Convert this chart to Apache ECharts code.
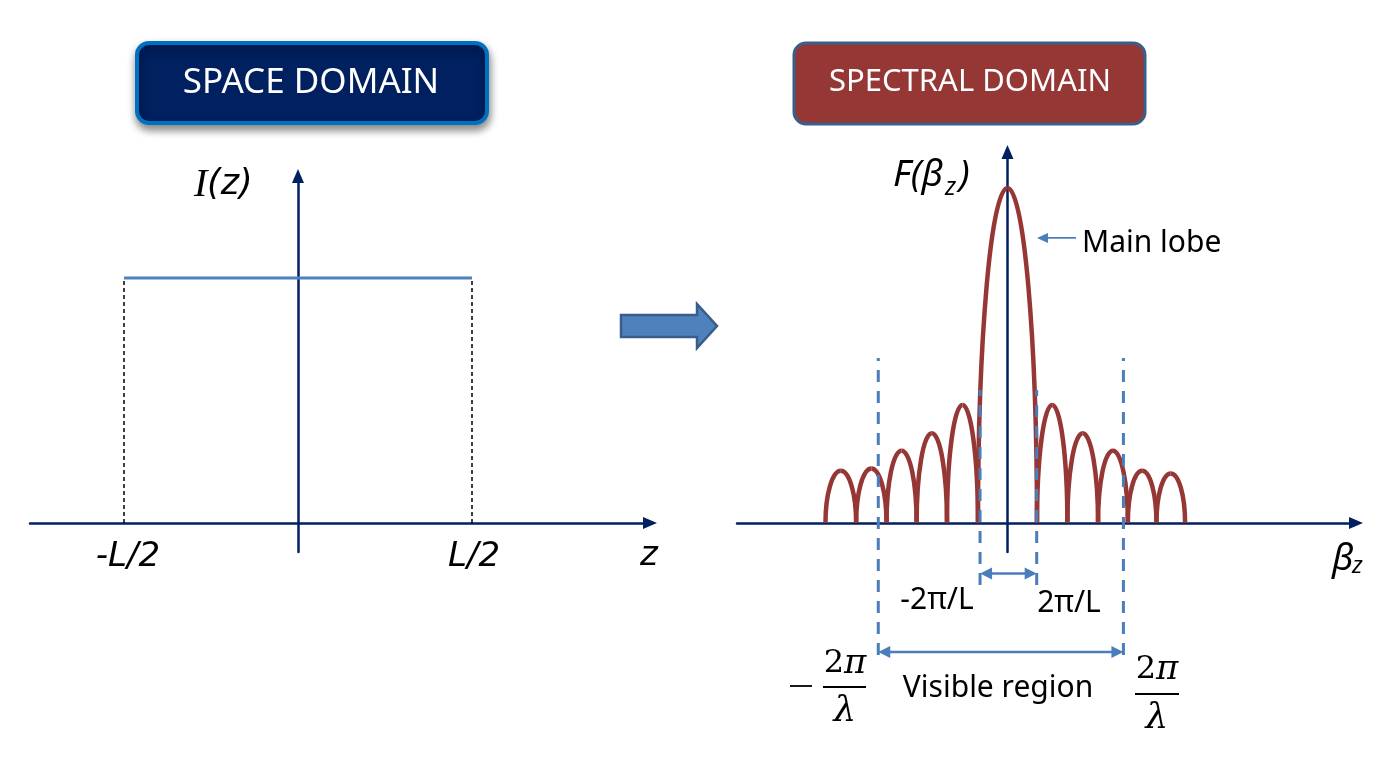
<!DOCTYPE html>
<html>
<head>
<meta charset="utf-8">
<script src="https://cdn.jsdelivr.net/npm/echarts@6/dist/echarts.min.js"></script>
<style>
html,body{margin:0;padding:0;background:#fff;}
#chart{width:1382px;height:782px;}
</style>
</head>
<body>
<div id="chart"></div>
<script>
// ---------- DATA ----------
// Space domain: rectangular current distribution I(z), edges at ±L/2 (units of L)
const spaceEdges = [-0.5, 0.5];
const spaceLevel = 1;
// Spectral domain: |F(beta_z)| lobes (x in units of 2π/L, height relative to main lobe)
const lobeStart = [-6.17, -5.13, -4.10, -3.08, -2.05, -1.00, 1.00, 2.03, 3.07, 4.08, 5.05];
const lobeEnd   = [-5.13, -4.10, -3.08, -2.05, -1.00, 1.00, 2.03, 3.07, 4.08, 5.05, 6.02];
const lobePeak  = [0.156, 0.163, 0.216, 0.268, 0.352, 1.000, 0.352, 0.268, 0.216, 0.156, 0.148];
// Visible region limits (±2π/λ) and first nulls (±2π/L), in units of 2π/L
const visibleEdges = [-4.38, 3.93];
const nullEdges = [-0.93, 0.99];
// Labels
const spaceTickLabels = ['-L/2', 'L/2'];
const spectralTickLabels = ['-2π/L', '2π/L'];

// ---------- CHART ----------
const NAVY = '#002060';
const BROWN = '#953735';
const BLUE = '#4A7EBB';
const FONT = '"Noto Sans", "Open Sans", sans-serif';
const MATH = '"DejaVu Serif", "Liberation Serif", serif';

const chart = echarts.init(document.getElementById('chart'), null, {renderer: 'canvas'});

function axisCommon(gridIndex, min, max) {
  return {
    gridIndex, type: 'value', min, max,
    axisLine: {show: true, onZero: true, lineStyle: {color: NAVY, width: 2.5},
      symbol: ['none', 'triangle'], symbolSize: [12, 14]},
    axisTick: {show: false}, axisLabel: {show: false}, splitLine: {show: false}
  };
}

function arrowHead(tip, dir, len, half, color) {
  const bx = tip[0] - dir[0] * len, by = tip[1] - dir[1] * len;
  const nx = -dir[1], ny = dir[0];
  return {type: 'polygon', shape: {points: [tip, [bx + nx * half, by + ny * half], [bx - nx * half, by - ny * half]]},
    style: {fill: color}};
}

const lobeData = lobeStart.map((s, i) => [s, lobeEnd[i], lobePeak[i]]);

const fracRich = {
  n: {fontFamily: '"DejaVu Serif", serif', fontSize: 32, fill: '#000'},
  p: {fontFamily: '"DejaVu Serif", serif', fontStyle: 'italic', fontSize: 34, fill: '#000'}
};

const option = {
  animation: false,
  backgroundColor: '#ffffff',
  grid: [
    {left: 30, top: 176, width: 620, height: 376},
    {left: 737, top: 152, width: 619, height: 400}
  ],
  xAxis: [axisCommon(0, -0.7701, 1.0115), axisCommon(1, -9.169, 11.814)],
  yAxis: [axisCommon(0, -0.1184, 1.4163), axisCommon(1, -0.0866, 1.1075)],
  series: [
    {
      name: 'I(z)', type: 'line', xAxisIndex: 0, yAxisIndex: 0,
      data: [[spaceEdges[0], spaceLevel], [spaceEdges[1], spaceLevel]],
      symbol: 'none', lineStyle: {color: '#4F81BD', width: 3}, z: 5
    },
    {
      name: 'edges', type: 'custom', xAxisIndex: 0, yAxisIndex: 0,
      data: spaceEdges.map(x => [x, spaceLevel]),
      renderItem: (params, api) => {
        const p0 = api.coord([api.value(0), 0]);
        const p1 = api.coord([api.value(0), api.value(1)]);
        return {type: 'line', shape: {x1: p0[0], y1: p0[1], x2: p1[0], y2: p1[1]},
          style: {stroke: '#000', lineWidth: 1.5, lineDash: [4, 3]}};
      }, z: 4
    },
    {
      name: 'F(beta_z)', type: 'custom', xAxisIndex: 1, yAxisIndex: 1,
      data: lobeData,
      renderItem: (params, api) => {
        const a = api.value(0), b = api.value(1), h = api.value(2);
        const m = (a + b) / 2;
        const p0 = api.coord([a, 0]), pm = api.coord([m, h]), p1 = api.coord([b, 0]);
        const k = 0.5523;
        const st = {stroke: BROWN, lineWidth: 4.5, fill: null, lineCap: 'butt'};
        return {type: 'group', children: [
          {type: 'bezierCurve', shape: {x1: p0[0], y1: p0[1], cpx1: p0[0], cpy1: p0[1] - k * (p0[1] - pm[1]),
            cpx2: pm[0] - k * (pm[0] - p0[0]), cpy2: pm[1], x2: pm[0], y2: pm[1]}, style: st},
          {type: 'bezierCurve', shape: {x1: pm[0], y1: pm[1], cpx1: pm[0] + k * (p1[0] - pm[0]), cpy1: pm[1],
            cpx2: p1[0], cpy2: p1[1] - k * (p1[1] - pm[1]), x2: p1[0], y2: p1[1]}, style: st}
        ]};
      }, z: 5
    },
    {
      name: 'visible', type: 'custom', xAxisIndex: 1, yAxisIndex: 1,
      data: visibleEdges.map(x => [x, -0.394, 0.4925]).concat(nullEdges.map(x => [x, -0.185, 0.397])),
      renderItem: (params, api) => {
        const p0 = api.coord([api.value(0), api.value(1)]);
        const p1 = api.coord([api.value(0), api.value(2)]);
        return {type: 'line', shape: {x1: p0[0], y1: p0[1], x2: p1[0], y2: p1[1]},
          style: {stroke: BLUE, lineWidth: 3, lineDash: [12, 9]}};
      }, z: 6
    },
    {
      name: 'dimensions', type: 'custom', xAxisIndex: 1, yAxisIndex: 1,
      data: [[nullEdges[0], nullEdges[1], -0.151], [visibleEdges[0], visibleEdges[1], -0.385]],
      renderItem: (params, api) => {
        const y = api.value(2);
        const p0 = api.coord([api.value(0), y]);
        const p1 = api.coord([api.value(1), y]);
        return {type: 'group', children: [
          {type: 'line', shape: {x1: p0[0] + 6, y1: p0[1], x2: p1[0] - 6, y2: p1[1]}, style: {stroke: BLUE, lineWidth: 2.5}},
          arrowHead(p0, [-1, 0], 12, 6, BLUE),
          arrowHead(p1, [1, 0], 12, 6, BLUE)
        ]};
      }, z: 6
    },
    {
      name: 'pointer', type: 'custom', xAxisIndex: 1, yAxisIndex: 1,
      data: [[1.0, 2.32, 0.851]],
      renderItem: (params, api) => {
        const p0 = api.coord([api.value(0), api.value(2)]);
        const p1 = api.coord([api.value(1), api.value(2)]);
        return {type: 'group', children: [
          {type: 'line', shape: {x1: p0[0] + 6, y1: p0[1], x2: p1[0], y2: p1[1]}, style: {stroke: BLUE, lineWidth: 1.6}},
          arrowHead(p0, [-1, 0], 11, 5, BLUE)
        ]};
      }, z: 6
    }
  ],
  graphic: [
    // Title boxes
    {type: 'rect', shape: {x: 137, y: 43, width: 350, height: 80, r: 12},
      style: {fill: '#002060', stroke: '#0070C0', lineWidth: 4, shadowBlur: 8, shadowOffsetY: 5, shadowOffsetX: 1, shadowColor: 'rgba(0,0,0,0.45)'}},
    {type: 'text', x: 311, y: 83, style: {text: 'SPACE DOMAIN', fill: '#fff', font: '35px ' + FONT, align: 'center', verticalAlign: 'middle'}},
    {type: 'rect', shape: {x: 794, y: 43, width: 351, height: 81, r: 12},
      style: {fill: '#953735', stroke: '#3A5F8B', lineWidth: 3}},
    {type: 'text', x: 970, y: 82, style: {text: 'SPECTRAL DOMAIN', fill: '#fff', font: '31px ' + FONT, align: 'center', verticalAlign: 'middle'}},
    // Block arrow between panels
    {type: 'polygon', shape: {points: [[621, 315], [697, 315], [697, 304], [717, 326], [697, 348], [697, 337], [621, 337]]},
      style: {fill: '#4F81BD', stroke: '#385D8A', lineWidth: 2.5}},
    // Left axis labels
    {type: 'text', x: 194, y: 185, style: {text: 'I', fill: '#000', font: 'italic 40px "Liberation Serif", serif', verticalAlign: 'middle'}},
    {type: 'text', x: 207, y: 185, style: {text: '(z)', fill: '#000', font: 'italic 35px "DejaVu Sans", sans-serif', verticalAlign: 'middle'}},
    {type: 'text', x: 128, y: 557, style: {text: spaceTickLabels[0], fill: '#000', font: 'italic 34px "DejaVu Sans", sans-serif', align: 'center', verticalAlign: 'middle'}},
    {type: 'text', x: 474, y: 557, style: {text: spaceTickLabels[1], fill: '#000', font: 'italic 34px "DejaVu Sans", sans-serif', align: 'center', verticalAlign: 'middle'}},
    {type: 'text', x: 649, y: 556, style: {text: 'z', fill: '#000', font: 'italic 34px "DejaVu Sans", sans-serif', align: 'center', verticalAlign: 'middle'}},
    // Right axis labels
    {type: 'text', x: 893, y: 175, style: {text: 'F(β', fill: '#000', font: 'italic 37px ' + FONT, verticalAlign: 'middle'}},
    {type: 'text', x: 945, y: 188, style: {text: 'z', fill: '#000', font: 'italic 25px ' + FONT, verticalAlign: 'middle'}},
    {type: 'text', x: 959, y: 175, style: {text: ')', fill: '#000', font: 'italic 37px ' + FONT, verticalAlign: 'middle'}},
    {type: 'text', x: 1332, y: 559, style: {text: 'β', fill: '#000', font: 'italic 37px ' + FONT, verticalAlign: 'middle'}},
    {type: 'text', x: 1352, y: 566, style: {text: 'z', fill: '#000', font: 'italic 24px ' + FONT, verticalAlign: 'middle'}},
    {type: 'text', x: 1082, y: 243, style: {text: 'Main lobe', fill: '#000', font: '30px ' + FONT, verticalAlign: 'middle'}},
    {type: 'text', x: 937, y: 600, style: {text: spectralTickLabels[0], fill: '#000', font: '30px ' + FONT, align: 'center', verticalAlign: 'middle'}},
    {type: 'text', x: 1069, y: 603, style: {text: spectralTickLabels[1], fill: '#000', font: '30px ' + FONT, align: 'center', verticalAlign: 'middle'}},
    {type: 'text', x: 998, y: 688, style: {text: 'Visible region', fill: '#000', font: '30px ' + FONT, align: 'center', verticalAlign: 'middle'}},
    // -2π/λ fraction
    {type: 'line', shape: {x1: 790, y1: 686, x2: 812, y2: 686}, style: {stroke: '#000', lineWidth: 1.8}},
    {type: 'text', x: 845, y: 664, style: {text: '{n|2}{p|π}', rich: fracRich, align: 'center', verticalAlign: 'middle'}},
    {type: 'line', shape: {x1: 823, y1: 687, x2: 866, y2: 687}, style: {stroke: '#000', lineWidth: 1.8}},
    {type: 'text', x: 845, y: 712, style: {text: 'λ', fill: '#000', font: 'italic 36px ' + MATH, align: 'center', verticalAlign: 'middle'}},
    // 2π/λ fraction
    {type: 'text', x: 1157, y: 670, style: {text: '{n|2}{p|π}', rich: fracRich, align: 'center', verticalAlign: 'middle'}},
    {type: 'line', shape: {x1: 1135, y1: 694, x2: 1179, y2: 694}, style: {stroke: '#000', lineWidth: 1.8}},
    {type: 'text', x: 1157, y: 719, style: {text: 'λ', fill: '#000', font: 'italic 36px ' + MATH, align: 'center', verticalAlign: 'middle'}}
  ]
};
chart.setOption(option);
</script>
</body>
</html>
